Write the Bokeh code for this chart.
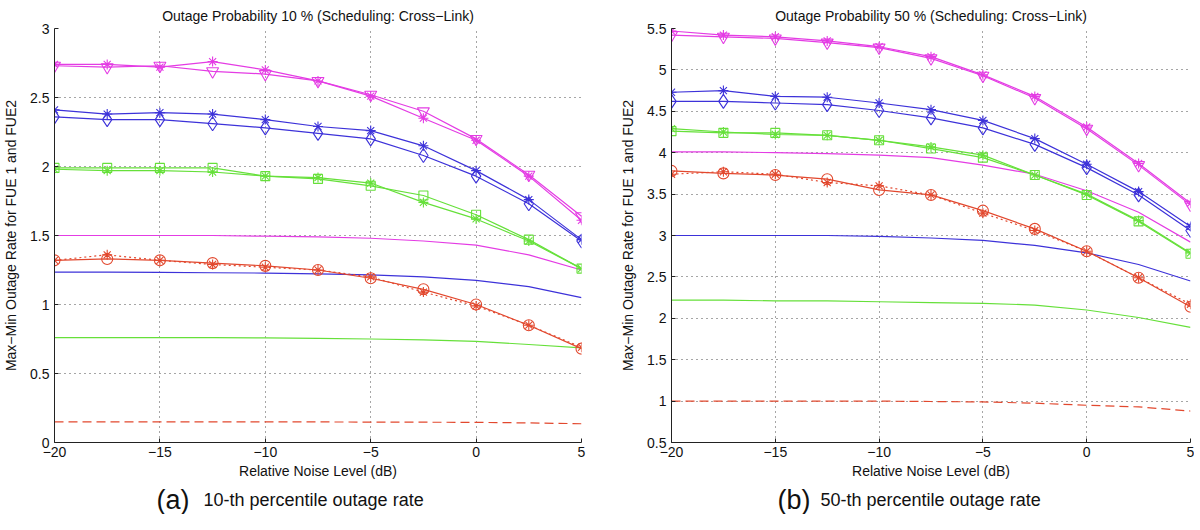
from bokeh.plotting import figure
from bokeh.layouts import row, column
from bokeh.models import FixedTicker, Title
from bokeh.core.properties import value
from bokeh.embed import file_html
from bokeh.resources import INLINE

# ---------------- data ----------------
noise_db = [-20, -17.5, -15, -12.5, -10, -7.5, -5, -2.5, 0, 2.5, 5]

# (a) 10-th percentile
a_mag_star = [2.74, 2.74, 2.72, 2.76, 2.70, 2.62, 2.51, 2.35, 2.19, 1.93, 1.61]
a_mag_tri = [2.73, 2.72, 2.73, 2.69, 2.67, 2.62, 2.52, 2.40, 2.20, 1.94, 1.64]
a_blue_star = [2.41, 2.38, 2.39, 2.38, 2.34, 2.29, 2.26, 2.15, 1.97, 1.76, 1.47]
a_blue_dia = [2.36, 2.34, 2.34, 2.31, 2.28, 2.24, 2.20, 2.08, 1.93, 1.73, 1.46]
a_green_sq = [1.99, 1.99, 1.99, 1.99, 1.93, 1.91, 1.86, 1.79, 1.65, 1.47, 1.26]
a_green_star = [1.98, 1.97, 1.97, 1.96, 1.93, 1.92, 1.88, 1.74, 1.62, 1.46, 1.26]
a_red_circ = [1.32, 1.33, 1.32, 1.30, 1.28, 1.25, 1.19, 1.11, 1.00, 0.85, 0.68]
a_red_star = [1.32, 1.36, 1.32, 1.29, 1.27, 1.25, 1.20, 1.09, 0.99, 0.85, 0.69]
a_mag_line = [1.50, 1.50, 1.50, 1.50, 1.495, 1.49, 1.48, 1.46, 1.43, 1.36, 1.25]
a_blue_line = [1.235, 1.235, 1.233, 1.23, 1.228, 1.222, 1.215, 1.20, 1.175, 1.13, 1.05]
a_green_line = [0.76, 0.76, 0.76, 0.76, 0.758, 0.755, 0.75, 0.743, 0.733, 0.71, 0.685]
a_red_dash = [0.15, 0.15, 0.15, 0.15, 0.149, 0.149, 0.148, 0.147, 0.146, 0.142, 0.136]

# (b) 50-th percentile
b_mag_star = [5.47, 5.42, 5.40, 5.35, 5.28, 5.16, 4.94, 4.68, 4.31, 3.87, 3.39]
b_mag_tri = [5.42, 5.40, 5.38, 5.33, 5.27, 5.14, 4.93, 4.66, 4.29, 3.85, 3.37]
b_blue_star = [4.73, 4.75, 4.68, 4.67, 4.60, 4.52, 4.39, 4.17, 3.86, 3.53, 3.11]
b_blue_dia = [4.62, 4.62, 4.60, 4.58, 4.51, 4.42, 4.30, 4.10, 3.82, 3.49, 3.06]
b_green_sq = [4.26, 4.24, 4.24, 4.21, 4.15, 4.05, 3.94, 3.73, 3.49, 3.17, 2.78]
b_green_star = [4.29, 4.25, 4.22, 4.21, 4.15, 4.07, 3.97, 3.73, 3.50, 3.18, 2.79]
b_red_circ = [3.78, 3.75, 3.73, 3.68, 3.55, 3.49, 3.30, 3.08, 2.81, 2.49, 2.14]
b_red_star = [3.74, 3.77, 3.74, 3.64, 3.60, 3.49, 3.27, 3.06, 2.81, 2.49, 2.17]
b_mag_line = [4.01, 4.01, 4.00, 3.99, 3.97, 3.94, 3.85, 3.74, 3.54, 3.28, 2.92]
b_blue_line = [3.00, 3.00, 3.00, 3.00, 2.99, 2.97, 2.94, 2.88, 2.79, 2.65, 2.45]
b_green_line = [2.22, 2.22, 2.21, 2.21, 2.20, 2.19, 2.18, 2.16, 2.10, 2.01, 1.89]
b_red_dash = [1.00, 1.00, 1.00, 1.00, 1.00, 0.995, 0.99, 0.975, 0.95, 0.93, 0.88]

x_ticks = [-20, -15, -10, -5, 0, 5]
x_tick_labels = ["\u221220", "\u221215", "\u221210", "\u22125", "0", "5"]
a_y_ticks = [0, 0.5, 1, 1.5, 2, 2.5, 3]
a_y_tick_labels = ["0", "0.5", "1", "1.5", "2", "2.5", "3"]
b_y_ticks = [0.5, 1, 1.5, 2, 2.5, 3, 3.5, 4, 4.5, 5, 5.5]
b_y_tick_labels = ["0.5", "1", "1.5", "2", "2.5", "3", "3.5", "4", "4.5", "5", "5.5"]

titles = ["Outage Probability 10 % (Scheduling: Cross\u2212Link)",
          "Outage Probability 50 % (Scheduling: Cross\u2212Link)"]
caption_tags = ["(a)", "(b)"]
caption_texts = ["10-th percentile outage rate", "50-th percentile outage rate"]
x_label = "Relative Noise Level (dB)"
y_label = "Max\u2212Min Outage Rate for FUE 1 and FUE2"

MAG = "#e43ce4"
BLUE = "#3d32d9"
GREEN = "#66e03a"
RED = "#e2482e"
FONT = "Liberation Sans"


def make_panel(title, yr, yt, ytl, series, frame_w, border_l, border_r):
    p = figure(output_backend="svg", toolbar_location=None,
               x_range=(-20, 5), y_range=yr,
               frame_width=frame_w, frame_height=414,
               min_border_left=border_l, min_border_right=border_r,
               min_border_top=27, min_border_bottom=42,
               background_fill_color="white", border_fill_color="white")
    p.outline_line_color = None
    p.title = Title(text=title, align="center", text_font=FONT, text_font_size="14px",
                    text_font_style="normal", text_color="#111111", standoff=10)

    for ax in (p.xaxis[0], p.yaxis[0]):
        ax.major_label_text_font = FONT
        ax.major_label_text_font_size = "14px"
        ax.major_label_text_color = "#111111"
        ax.axis_label_text_font = FONT
        ax.axis_label_text_font_size = "14px"
        ax.axis_label_text_font_style = "normal"
        ax.axis_label_text_color = "#111111"
        ax.axis_line_color = "#222222"
        ax.major_tick_line_color = "#222222"
        ax.major_tick_in = 4
        ax.major_tick_out = 0
        ax.minor_tick_line_color = None
    p.xaxis.ticker = FixedTicker(ticks=x_ticks)
    p.xaxis.major_label_overrides = dict(zip(x_ticks, x_tick_labels))
    p.yaxis.ticker = FixedTicker(ticks=yt)
    p.yaxis.major_label_overrides = dict(zip(yt, ytl))
    p.xaxis.axis_label = x_label
    p.yaxis.axis_label = y_label
    p.xaxis.major_label_standoff = 4
    p.xaxis.axis_label_standoff = 3
    p.yaxis.major_label_standoff = 5
    p.yaxis.axis_label_standoff = 8

    p.xgrid.ticker = FixedTicker(ticks=x_ticks)
    p.ygrid.ticker = FixedTicker(ticks=yt)
    for g in (p.xgrid[0], p.ygrid[0]):
        g.grid_line_color = "#000000"
        g.grid_line_alpha = 0.7
        g.grid_line_dash = "1 4"
        g.grid_line_width = 1

    (mag_star, mag_tri, blue_star, blue_dia, green_sq, green_star,
     red_circ, red_star, mag_line, blue_line, green_line, red_dash) = series

    lw = 1.2
    p.line(noise_db, mag_line, line_color=MAG, line_width=lw)
    p.line(noise_db, blue_line, line_color=BLUE, line_width=lw)
    p.line(noise_db, green_line, line_color=GREEN, line_width=lw)
    p.line(noise_db, red_dash, line_color=RED, line_width=lw, line_dash="9 5")

    def ms(y, color, marker, size, dash="solid"):
        p.line(noise_db, y, line_color=color, line_width=lw, line_dash=dash)
        p.scatter(noise_db, y, marker=marker, size=size, line_color=color,
                  fill_color=None, line_width=1.1)

    ms(red_circ, RED, "circle", 11)
    ms(red_star, RED, "asterisk", 10, dash="2 3")
    ms(green_sq, GREEN, "square", 9)
    ms(green_star, GREEN, "asterisk", 10)
    ms(blue_dia, BLUE, "diamond", 14)
    ms(blue_star, BLUE, "asterisk", 10)
    ms(mag_tri, MAG, "inverted_triangle", 12)
    ms(mag_star, MAG, "asterisk", 10)
    return p


left = make_panel(titles[0], (0, 3), a_y_ticks, a_y_tick_labels,
                  (a_mag_star, a_mag_tri, a_blue_star, a_blue_dia, a_green_sq, a_green_star,
                   a_red_circ, a_red_star, a_mag_line, a_blue_line, a_green_line, a_red_dash),
                  527, 52, 21)
right = make_panel(titles[1], (0.5, 5.5), b_y_ticks, b_y_tick_labels,
                   (b_mag_star, b_mag_tri, b_blue_star, b_blue_dia, b_green_sq, b_green_star,
                    b_red_circ, b_red_star, b_mag_line, b_blue_line, b_green_line, b_red_dash),
                   519, 69, 4)

# caption strip (x in px from layout left, y in px from strip bottom)
cap = figure(output_backend="svg", toolbar_location=None, title=None,
             x_axis_location=None, y_axis_location=None,
             width=1184, height=30, x_range=(0, 1184), y_range=(0, 30),
             min_border=0, background_fill_color="white", border_fill_color="white")
cap.grid.visible = False
cap.outline_line_color = None
tag_x = [156, 777]
text_x = [203, 820]
cap.text(x=tag_x, y=[15, 15], text=caption_tags, text_font=value(FONT), text_font_size="27px",
         text_color="#111111", text_align="left", text_baseline="middle")
cap.text(x=text_x, y=[15, 15], text=caption_texts, text_font=value(FONT), text_font_size="18px",
         text_color="#111111", text_align="left", text_baseline="middle")

layout = column(row(left, right), cap)
open("out.html", "w").write(file_html(layout, INLINE))
